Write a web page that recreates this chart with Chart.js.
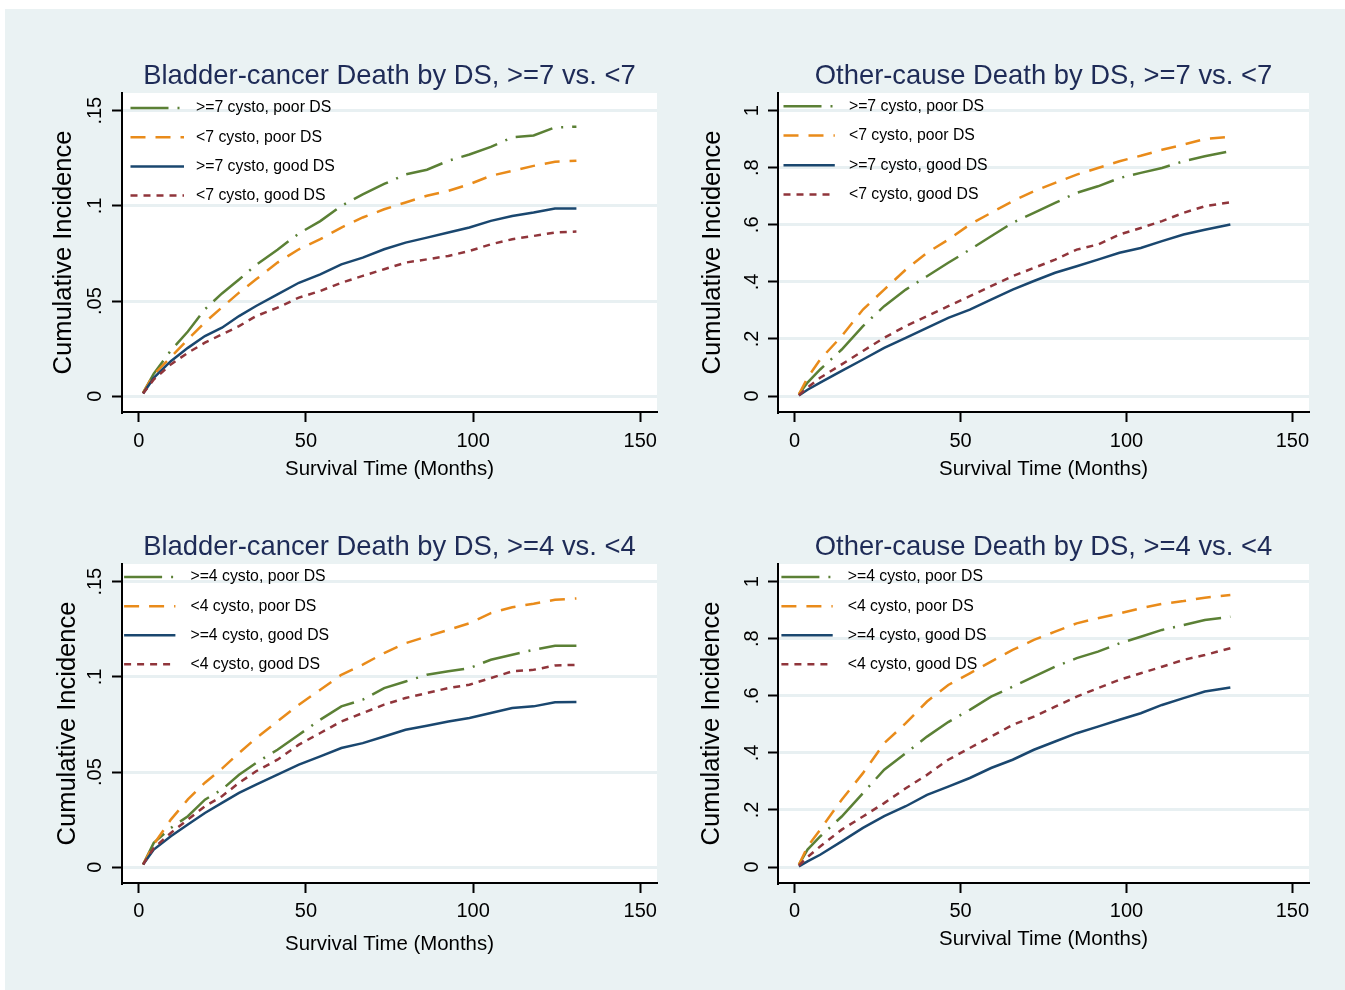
<!DOCTYPE html>
<html>
<head>
<meta charset="utf-8">
<title>Cumulative incidence by DS</title>
<script src="https://cdn.jsdelivr.net/npm/chart.js@4.4.0/dist/chart.umd.min.js"></script>
<style>
    html, body { margin: 0; padding: 0; background: #ffffff; }
    #frame { position: absolute; left: 5px; top: 9px; width: 1340px; height: 981px; background: #eaf2f3; }
    canvas { position: absolute; }
</style>
</head>
<body>
<div id="frame"></div>
<canvas id="bc7"></canvas>
<canvas id="oc7"></canvas>
<canvas id="bc4"></canvas>
<canvas id="oc4"></canvas>
<script>
// ---- data ----
const xTickValues = [0, 50, 100, 150];
const bladderTicks = [0, 0.05, 0.1, 0.15];
const otherTicks = [0, 0.2, 0.4, 0.6, 0.8, 1];

const monthsBladder = [1.3, 4.5, 9.6, 14.7, 19.8, 24.9, 30, 35.1, 41.5, 47.9, 54.3, 60.6, 67, 73.4, 79.8, 86.2, 92.6, 98.9, 105.3, 111.7, 118.1, 124.5, 130.9];
const monthsOther = [1.3, 3.9, 7.7, 14.2, 20.6, 27, 33.5, 39.9, 46.3, 52.8, 59.2, 65.7, 72.1, 78.5, 85, 91.4, 97.9, 104.3, 110.7, 117.2, 123.6, 131.3];

const labels7 = [">=7 cysto, poor DS", "<7 cysto, poor DS", ">=7 cysto, good DS", "<7 cysto, good DS"];
const labels4 = [">=4 cysto, poor DS", "<4 cysto, poor DS", ">=4 cysto, good DS", "<4 cysto, good DS"];

// Bladder-cancer death, >=7 vs <7
const bc7Ge7Poor = [.0018, .0118, .024, .034, .0457, .054, .0613, .069, .077, .0855, .092, .1, .106, .1115, .1165, .119, .1237, .127, .131, .136, .137, .1412, .1416];
const bc7Lt7Poor = [.0018, .0114, .0205, .0298, .0388, .0467, .0544, .0614, .0702, .0772, .0825, .0886, .0939, .0982, .1018, .1053, .1079, .1114, .1158, .1184, .121, .1232, .1237];
const bc7Ge7Good = [.0014, .0096, .0184, .0254, .0316, .036, .0421, .0474, .0535, .0596, .064, .0693, .0728, .0772, .0807, .0833, .086, .0886, .0921, .0947, .0965, .0986, .0986];
const bc7Lt7Good = [.0014, .0088, .0167, .0228, .0281, .0325, .0368, .0421, .0465, .0518, .0553, .0596, .0632, .0667, .0702, .0719, .0737, .0763, .0798, .0825, .0842, .086, .0865];

// Other-cause death, >=7 vs <7
const oc7Ge7Poor = [.006, .047, .093, .163, .245, .315, .373, .42, .467, .513, .56, .607, .642, .677, .712, .735, .764, .782, .799, .823, .84, .858];
const oc7Lt7Poor = [.006, .064, .128, .21, .303, .373, .443, .502, .548, .601, .642, .683, .718, .747, .776, .799, .823, .842, .863, .881, .901, .908];
const oc7Ge7Good = [.002, .022, .047, .088, .128, .169, .204, .239, .274, .303, .338, .373, .403, .432, .455, .478, .502, .519, .543, .566, .583, .601];
const oc7Lt7Good = [.002, .03, .064, .111, .158, .204, .245, .28, .315, .35, .385, .42, .449, .478, .513, .531, .566, .589, .613, .642, .665, .679];

// Bladder-cancer death, >=4 vs <4
const bc4Ge4Poor = [.0014, .0128, .0206, .0268, .0355, .0408, .0486, .0548, .0617, .0696, .0775, .0845, .088, .0941, .0976, .1011, .1029, .1046, .109, .1116, .1142, .1163, .1163];
const bc4Lt4Poor = [.0014, .012, .025, .0356, .0444, .0518, .06, .0678, .0766, .0854, .0932, .1011, .1064, .1125, .1177, .1212, .1247, .1282, .1335, .1366, .1384, .1405, .1412];
const bc4Ge4Good = [.0014, .0093, .0163, .0224, .0285, .0338, .039, .0434, .0486, .0539, .0582, .0626, .0652, .0687, .0722, .0743, .0766, .0784, .081, .0836, .0845, .0866, .0868];
const bc4Lt4Good = [.0014, .0101, .018, .025, .032, .0373, .0443, .0504, .0565, .0644, .0705, .0766, .081, .0854, .0889, .0915, .0941, .0959, .0994, .1029, .1037, .106, .1063];

// Other-cause death, >=4 vs <4
const oc4Ge4Poor = [.008, .061, .107, .177, .259, .341, .399, .457, .508, .551, .597, .632, .667, .702, .732, .755, .784, .807, .831, .848, .866, .877];
const oc4Lt4Poor = [.008, .072, .131, .236, .329, .434, .504, .58, .638, .679, .72, .761, .796, .825, .854, .872, .889, .907, .922, .932, .944, .953];
const oc4Ge4Good = [.002, .02, .043, .09, .137, .178, .213, .253, .282, .312, .347, .376, .411, .44, .469, .492, .516, .539, .568, .592, .615, .629];
const oc4Lt4Good = [.005, .035, .072, .131, .177, .224, .276, .323, .376, .417, .457, .498, .527, .562, .597, .627, .656, .679, .702, .726, .743, .767];

// Stata s2color-ish styling
const seriesColors = ['#5b8035', '#e98b1a', '#1a476f', '#90353b'];
const seriesDash = [[38, 9, 2, 9], [15, 10], [], [7, 6]];
const FONT = '"Liberation Sans", Arial, Helvetica, sans-serif';
const TICK_SIZE = 20;
const TITLE_SIZE = 27.4;

Chart.defaults.font.family = FONT;

const panels = [
    { id: 'bc7', left: 0, top: 0, w: 672, h: 500,
      title: 'Bladder-cancer Death by DS, >=7 vs. <7',
      months: monthsBladder, series: [bc7Ge7Poor, bc7Lt7Poor, bc7Ge7Good, bc7Lt7Good], labels: labels7,
      yMin: -0.0083, yMax: 0.1593, yTicks: bladderTicks,
      area: { l: 122, r: 657, t: 93, b: 412 },
      titleMid: 76.5, yTitleMid: 63.8, yTickMid: 95.7, xTickMid: 441.5, xTitleMid: 468.9,
      legend: { x0: 8.5, x1: 62, tx: 74, rows: [15, 44.3, 73.6, 102.6] } },
    { id: 'oc7', left: 672, top: 0, w: 673, h: 500,
      title: 'Other-cause Death by DS, >=7 vs. <7',
      months: monthsOther, series: [oc7Ge7Poor, oc7Lt7Poor, oc7Ge7Good, oc7Lt7Good], labels: labels7,
      yMin: -0.056, yMax: 1.062, yTicks: otherTicks,
      area: { l: 106, r: 637, t: 93, b: 412 },
      titleMid: 76.5, yTitleMid: 40.5, yTickMid: 80.8, xTickMid: 441.5, xTitleMid: 468.9,
      legend: { x0: 5.5, x1: 56.8, tx: 70.9, rows: [13.3, 42.6, 72.3, 101.6] } },
    { id: 'bc4', left: 0, top: 500, w: 672, h: 490,
      title: 'Bladder-cancer Death by DS, >=4 vs. <4',
      months: monthsBladder, series: [bc4Ge4Poor, bc4Lt4Poor, bc4Ge4Good, bc4Lt4Good], labels: labels4,
      yMin: -0.0083, yMax: 0.1593, yTicks: bladderTicks,
      area: { l: 122, r: 657, t: 64, b: 383 },
      titleMid: 47, yTitleMid: 68.1, yTickMid: 95.7, xTickMid: 411.6, xTitleMid: 444.5,
      legend: { x0: 2.1, x1: 53.4, tx: 68.4, rows: [13, 42.3, 71.3, 100.3] } },
    { id: 'oc4', left: 672, top: 500, w: 673, h: 490,
      title: 'Other-cause Death by DS, >=4 vs. <4',
      months: monthsOther, series: [oc4Ge4Poor, oc4Lt4Poor, oc4Ge4Good, oc4Lt4Good], labels: labels4,
      yMin: -0.056, yMax: 1.062, yTicks: otherTicks,
      area: { l: 106, r: 637, t: 64, b: 383 },
      titleMid: 47, yTitleMid: 39.6, yTickMid: 80.8, xTickMid: 411.6, xTitleMid: 438.9,
      legend: { x0: 3.4, x1: 54.7, tx: 69.7, rows: [13, 42.3, 71.3, 100.3] } }
];

// Stata prints .05 instead of 0.05
function stataLabel(v) {
    if (v === 0) return '0';
    if (v === 1) return '1';
    return String(v).replace(/^0/, '');
}

const measureCtx = document.createElement('canvas').getContext('2d');
function widestLabel(values) {
    measureCtx.font = TICK_SIZE + 'px ' + FONT;
    return Math.max(...values.map(v => measureCtx.measureText(stataLabel(v)).width));
}

const plotBackground = {
    id: 'plotBackground',
    beforeDraw(chart) {
        const { ctx, chartArea: a } = chart;
        ctx.save();
        ctx.fillStyle = '#ffffff';
        ctx.fillRect(a.left, a.top, a.right - a.left, a.bottom - a.top);
        ctx.restore();
    }
};

// legend drawn inside the plot region, like Stata's ring(0) legend
const insideLegend = {
    id: 'insideLegend',
    afterDatasetsDraw(chart, args, opts) {
        const { ctx, chartArea: a } = chart;
        ctx.save();
        chart.data.datasets.forEach((ds, i) => {
            const y = a.top + opts.rows[i];
            ctx.strokeStyle = ds.borderColor;
            ctx.lineWidth = ds.borderWidth;
            ctx.setLineDash(ds.borderDash || []);
            ctx.beginPath();
            ctx.moveTo(a.left + opts.x0, y);
            ctx.lineTo(a.left + opts.x1, y);
            ctx.stroke();
            ctx.setLineDash([]);
            ctx.fillStyle = '#000000';
            ctx.font = '15.8px ' + FONT;
            ctx.textBaseline = 'middle';
            ctx.textAlign = 'left';
            ctx.fillText(ds.label, a.left + opts.tx, y);
        });
        ctx.restore();
    }
};

function buildPanel(p) {
    const canvas = document.getElementById(p.id);
    canvas.width = p.w;
    canvas.height = p.h;
    canvas.style.left = p.left + 'px';
    canvas.style.top = p.top + 'px';

    const padLeft = 10, padBottom = 10;
    const titleLine = TITLE_SIZE * 1.2;
    const padTop = p.titleMid - titleLine / 2;
    const tickLen = 10;
    const yPad = (p.area.l - p.yTickMid) - tickLen - widestLabel(p.yTicks) / 2;
    const xPad = p.xTickMid - p.area.b - tickLen - TICK_SIZE * 1.2 / 2;

    const datasets = p.series.map((vals, i) => ({
        label: p.labels[i],
        data: vals.map((v, j) => ({ x: p.months[j], y: v })),
        borderColor: seriesColors[i],
        borderDash: seriesDash[i],
        borderWidth: 2.5,
        pointRadius: 0,
        tension: 0,
        fill: false,
        order: 3 - i
    }));

    return new Chart(canvas, {
        type: 'line',
        data: { datasets },
        options: {
            responsive: false,
            animation: false,
            devicePixelRatio: 1,
            layout: { padding: { left: padLeft, right: p.w - p.area.r, top: padTop, bottom: padBottom } },
            plugins: {
                legend: { display: false },
                tooltip: { enabled: false },
                title: {
                    display: true,
                    text: p.title,
                    fullSize: false,
                    color: '#1e2b57',
                    font: { size: TITLE_SIZE, weight: 'normal' },
                    padding: { top: 0, bottom: p.area.t - padTop - titleLine }
                },
                insideLegend: p.legend
            },
            scales: {
                x: {
                    type: 'linear',
                    min: -5,
                    max: 155,
                    afterBuildTicks: s => { s.ticks = xTickValues.map(v => ({ value: v })); },
                    afterFit: s => { s.height = (p.h - padBottom) - p.area.b; s.paddingLeft = 0; s.paddingRight = 0; },
                    border: { display: true, color: '#000000', width: 2 },
                    grid: { drawOnChartArea: false, drawTicks: true, tickLength: tickLen, tickColor: '#000000', tickWidth: 2 },
                    ticks: { maxRotation: 0, autoSkip: false, padding: xPad, color: '#000000', font: { size: TICK_SIZE } },
                    title: {
                        display: true,
                        text: 'Survival Time (Months)',
                        color: '#000000',
                        font: { size: 20.4 },
                        padding: { top: 0, bottom: (p.h - padBottom) - p.xTitleMid - 20.4 * 1.2 / 2 }
                    }
                },
                y: {
                    type: 'linear',
                    min: p.yMin,
                    max: p.yMax,
                    afterBuildTicks: s => { s.ticks = p.yTicks.map(v => ({ value: v })); },
                    afterFit: s => { s.width = p.area.l - padLeft; s.paddingTop = 0; s.paddingBottom = 0; },
                    border: { display: true, color: '#000000', width: 2 },
                    grid: { color: '#e8f0f2', lineWidth: 3, drawTicks: true, tickLength: tickLen, tickColor: '#000000', tickWidth: 2 },
                    ticks: {
                        minRotation: 90,
                        maxRotation: 90,
                        crossAlign: 'center',
                        padding: yPad,
                        color: '#000000',
                        font: { size: TICK_SIZE },
                        callback: v => stataLabel(v)
                    },
                    title: {
                        display: true,
                        text: 'Cumulative Incidence',
                        color: '#000000',
                        font: { size: 25.5 },
                        padding: { top: p.yTitleMid - padLeft - 25.5 * 1.2 / 2, bottom: 0 }
                    }
                }
            }
        },
        plugins: [plotBackground, insideLegend]
    });
}

panels.forEach(buildPanel);
</script>
</body>
</html>
